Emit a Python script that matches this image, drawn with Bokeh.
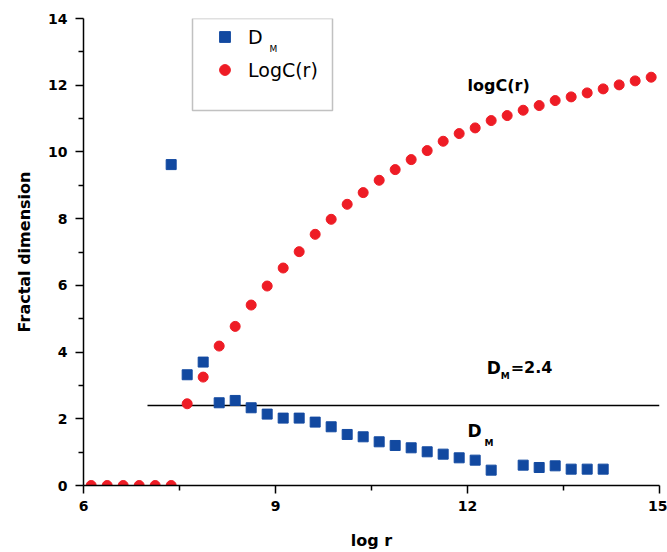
from bokeh.plotting import figure
from bokeh.models import (FixedTicker, Legend, LegendItem, Label, BoxAnnotation, Range1d)
from bokeh.embed import file_html
from bokeh.resources import INLINE

# ---- data ----
dm_x = [7.37, 7.62, 7.87, 8.12, 8.37, 8.62, 8.87, 9.12, 9.37, 9.62, 9.87,
        10.12, 10.37, 10.62, 10.87, 11.12, 11.37, 11.62, 11.87, 12.12, 12.37,
        12.87, 13.12, 13.37, 13.62, 13.87, 14.12]
dm_y = [9.62, 3.32, 3.70, 2.48, 2.55, 2.33, 2.14, 2.02, 2.02, 1.90, 1.76,
        1.53, 1.46, 1.31, 1.20, 1.13, 1.01, 0.94, 0.83, 0.76, 0.46,
        0.61, 0.54, 0.59, 0.49, 0.49, 0.49]

logc_x = [6.12, 6.37, 6.62, 6.87, 7.12, 7.37, 7.62, 7.87, 8.12, 8.37, 8.62, 8.87,
          9.12, 9.37, 9.62, 9.87, 10.12, 10.37, 10.62, 10.87, 11.12, 11.37, 11.62,
          11.87, 12.12, 12.37, 12.62, 12.87, 13.12, 13.37, 13.62, 13.87, 14.12,
          14.37, 14.62, 14.87]
logc_y = [0.0, 0.0, 0.0, 0.0, 0.0, 0.0, 2.45, 3.25, 4.18, 4.77, 5.41, 5.98,
          6.52, 7.01, 7.53, 7.98, 8.43, 8.78, 9.15, 9.47, 9.77, 10.04, 10.32,
          10.55, 10.72, 10.94, 11.09, 11.25, 11.39, 11.54, 11.65, 11.77, 11.89,
          12.01, 12.13, 12.24]

dm_level = 2.4
dm_level_x = [7.0, 15.0]

x_major = [6, 9, 12, 15]
x_minor = [7.5, 10.5, 13.5]
y_major = [0, 2, 4, 6, 8, 10, 12, 14]
y_minor = [1, 3, 5, 7, 9, 11, 13]

BLUE = "#1249a0"
RED = "#ee1c25"
FONT = "DejaVu Sans"

p = figure(width=667, height=552, x_range=Range1d(6, 15), y_range=Range1d(0, 14),
           output_backend="svg", toolbar_location=None,
           min_border_left=83, min_border_right=8, min_border_top=18, min_border_bottom=65)
p.outline_line_color = None
p.grid.visible = False
p.background_fill_color = "white"

p.xaxis.ticker = FixedTicker(ticks=x_major, minor_ticks=x_minor)
p.yaxis.ticker = FixedTicker(ticks=y_major, minor_ticks=y_minor)
for ax in (p.xaxis, p.yaxis):
    ax.axis_line_color = "black"
    ax.axis_line_width = 1.5
    ax.major_tick_line_color = "black"
    ax.major_tick_line_width = 1.5
    ax.minor_tick_line_color = "black"
    ax.minor_tick_line_width = 1.5
    ax.major_tick_in = 0
    ax.major_tick_out = 8
    ax.minor_tick_in = 0
    ax.minor_tick_out = 5
    ax.major_label_text_font = FONT
    ax.major_label_text_font_style = "bold"
    ax.major_label_text_font_size = "14px"
    ax.major_label_text_color = "black"
    ax.axis_label_text_font = FONT
    ax.axis_label_text_font_style = "bold"
    ax.axis_label_text_font_size = "16px"
    ax.axis_label_text_color = "black"

p.xaxis.axis_label = "log r"
p.yaxis.axis_label = "Fractal dimension"
p.xaxis.major_label_standoff = 7
p.xaxis.axis_label_standoff = 17
p.yaxis.major_label_standoff = 8
p.yaxis.axis_label_standoff = 11

p.line(dm_level_x, [dm_level, dm_level], line_color="black", line_width=1.5)
r_dm = p.scatter(dm_x, dm_y, marker="square", size=10, fill_color=BLUE, line_color=BLUE)
r_lc = p.scatter(logc_x, logc_y, marker="circle", size=10, fill_color=RED, line_color=RED)

legend = Legend(items=[LegendItem(label="D", renderers=[r_dm]),
                       LegendItem(label="LogC(r)", renderers=[r_lc])],
                location=(128, 402), orientation="vertical", padding=0, margin=0,
                spacing=6, glyph_width=27, glyph_height=27, label_height=27,
                label_standoff=10, label_text_font=FONT, label_text_font_size="19px",
                label_text_color="black",
                border_line_color=None, background_fill_alpha=0)
p.add_layout(legend)

box = BoxAnnotation(left=109, right=249, top=467, bottom=375,
                    left_units="screen", right_units="screen",
                    top_units="screen", bottom_units="screen",
                    fill_color=None, line_color="#333333", line_width=1.5)
p.add_layout(box)
p.add_layout(Label(x=186, y=437, x_units="screen", y_units="screen", text="M",
                   text_font=FONT, text_font_size="9px", text_baseline="middle",
                   text_color="black"))

def bold_label(x, y, text, size, **kw):
    return Label(x=x, y=y, text=text, text_font=FONT, text_font_style="bold",
                 text_font_size=size, text_baseline="middle", text_color="black", **kw)

p.add_layout(bold_label(12.0, 12.0, "logC(r)", "16px"))
p.add_layout(bold_label(12.3, 3.53, "D", "17px"))
p.add_layout(bold_label(12.3, 3.53, "M", "9px", x_offset=14, y_offset=-8))
p.add_layout(bold_label(12.3, 3.53, "=2.4", "16px", x_offset=24))
p.add_layout(bold_label(12.0, 1.64, "D", "17px"))
p.add_layout(bold_label(12.0, 1.64, "M", "9px", x_offset=17, y_offset=-12))

open("out.html", "w").write(file_html(p, INLINE))
